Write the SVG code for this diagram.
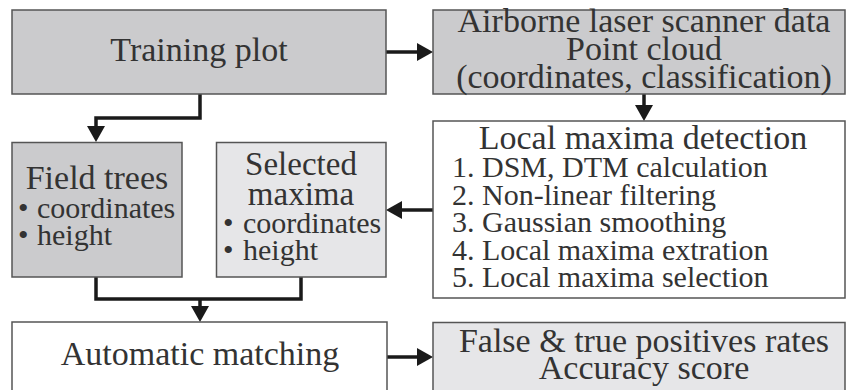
<svg xmlns="http://www.w3.org/2000/svg" width="846" height="390" viewBox="0 0 846 390" font-family="Liberation Serif, Times New Roman, serif">
<style>
  .box { stroke: #555555; stroke-width: 1.5; }
  .dark { fill: #cbcbcd; }
  .light { fill: #e6e6e8; }
  .white { fill: #ffffff; }
  text { fill: #333333; }
  .big { font-size: 34px; }
  .small { font-size: 30px; }
  .c { text-anchor: middle; }
  .conn { fill: none; stroke: #1a1a1a; stroke-width: 3.5; }
</style>
<defs>
  <marker id="ah" markerUnits="userSpaceOnUse" markerWidth="16" markerHeight="18" viewBox="0 0 16 18" refX="0" refY="9" orient="auto">
    <path d="M0,0 L16,9 L0,18 Z" fill="#1a1a1a"/>
  </marker>
</defs>

<g id="connectors">
  <path class="conn" d="M386,52 H417" marker-end="url(#ah)"/>
  <path class="conn" d="M644,94 V105" marker-end="url(#ah)"/>
  <path class="conn" d="M200,94 V118 H96 V126" marker-end="url(#ah)"/>
  <path class="conn" d="M433,210 H402" marker-end="url(#ah)"/>
  <path class="conn" d="M96,277 V299 H301 V277"/>
  <path class="conn" d="M200,299 V306" marker-end="url(#ah)"/>
  <path class="conn" d="M387,357 H417" marker-end="url(#ah)"/>
</g>

<g id="training-plot">
  <rect class="box dark" x="12" y="10" width="374" height="84"/>
  <text class="big c" x="199" y="61">Training plot</text>
</g>

<g id="als-data">
  <rect class="box dark" x="433" y="10" width="412" height="84"/>
  <text class="big c" x="644" y="32">Airborne laser scanner data</text>
  <text class="big c" x="644" y="60">Point cloud</text>
  <text class="big c" x="644" y="88">(coordinates, classification)</text>
</g>

<g id="local-maxima">
  <rect class="box white" x="433" y="121" width="412" height="177"/>
  <text class="big c" x="643" y="149">Local maxima detection</text>
  <text class="small" x="452" y="177">1. DSM, DTM calculation</text>
  <text class="small" x="452" y="204.5">2. Non-linear filtering</text>
  <text class="small" x="452" y="232">3. Gaussian smoothing</text>
  <text class="small" x="452" y="259.5">4. Local maxima extration</text>
  <text class="small" x="452" y="287">5. Local maxima selection</text>
</g>

<g id="field-trees">
  <rect class="box dark" x="12" y="142.5" width="170" height="134.5"/>
  <text class="big c" x="97" y="189">Field trees</text>
  <text class="small" y="218"><tspan x="18">•</tspan><tspan x="37">coordinates</tspan></text>
  <text class="small" y="245"><tspan x="18">•</tspan><tspan x="37">height</tspan></text>
</g>

<g id="selected-maxima">
  <rect class="box light" x="216.5" y="142.5" width="169.5" height="134.5"/>
  <text class="big c" x="301" y="175" style="font-size:33px">Selected</text>
  <text class="big c" x="301" y="205" style="font-size:33px">maxima</text>
  <text class="small" y="233"><tspan x="223">•</tspan><tspan x="243">coordinates</tspan></text>
  <text class="small" y="260"><tspan x="223">•</tspan><tspan x="243">height</tspan></text>
</g>

<g id="automatic-matching">
  <rect class="box white" x="12" y="322" width="375" height="90"/>
  <text class="big c" x="200" y="365">Automatic matching</text>
</g>

<g id="accuracy">
  <rect class="box light" x="433" y="322.5" width="412" height="90"/>
  <text class="big c" x="644" y="352">False &amp; true positives rates</text>
  <text class="big c" x="644" y="379">Accuracy score</text>
</g>
</svg>
